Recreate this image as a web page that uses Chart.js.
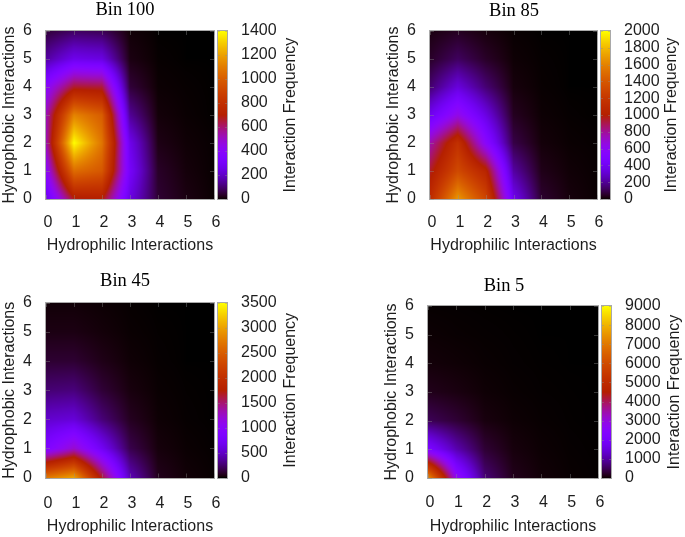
<!DOCTYPE html>
<html>
<head>
<meta charset="utf-8">
<script src="https://cdn.jsdelivr.net/npm/chart.js@4"></script>
<style>
html,body{margin:0;padding:0;background:#fff;}
canvas{position:absolute;display:block;filter:blur(0.4px);}
</style>
</head>
<body>
<script>
// axis categories (grid nodes)
const xCategories = [0,1,2,3,4,5,6];
const yCategories = [0,1,2,3,4,5,6];
const xLabel = 'Hydrophilic Interactions';
const yLabel = 'Hydrophobic Interactions';
const barLabel = 'Interaction Frequency';

// rows go from y=0 up to y=6, columns x=0..6
const bin100Values = [
  [ 250, 680, 700, 240, 45, 15, 2],
  [ 400,1050, 980, 300, 35,  9, 1],
  [ 520,1400,1080, 260, 18,  5, 1],
  [ 520,1120,1000, 140,  8,  2, 0],
  [ 400, 660, 650,  50,  3,  1, 0],
  [ 150, 260, 240,  15,  1,  0, 0],
  [  50,  85,  75,   6,  0,  0, 0]
];
const bin85Values = [
  [1100,1680,1300, 380, 60, 15, 3],
  [ 950,1320,1050, 220, 30,  8, 2],
  [ 760,1150, 570,  90, 12,  3, 1],
  [ 380, 640, 350,  40,  5,  1, 0],
  [ 140, 330, 150,  15,  2,  0, 0],
  [  50, 120,  50,   6,  1,  0, 0],
  [  20,  40,  15,   2,  0,  0, 0]
];
const bin45Values = [
  [2700,3000,1650, 450, 60, 15, 3],
  [ 860,1230, 700, 170, 25,  6, 1],
  [ 520, 560, 270,  70, 10,  2, 0],
  [ 260, 280, 120,  30,  5,  1, 0],
  [ 110, 110,  50,  12,  2,  0, 0],
  [  40,  40,  20,   5,  1,  0, 0],
  [  15,  15,   8,   2,  0,  0, 0]
];
const bin5Values = [
  [7400,2800, 700, 150, 40, 10, 2],
  [2200,1100, 300,  70, 20,  5, 1],
  [ 500, 300,  80,  25,  8,  2, 0],
  [ 150,  90,  30,  10,  3,  1, 0],
  [  50,  30,  12,   4,  1,  0, 0],
  [  20,  10,   5,   2,  0,  0, 0],
  [   5,   3,   1,   0,  0,  0, 0]
];

const panels = [
  {title:'Bin 100', values:bin100Values, cbMax:1400, cbStep:200, left:46,  top:30.5, w:168, h:168,   tx:125, ty:9.5, cbx:77, xPad:14, xl:47},
  {title:'Bin 85',  values:bin85Values,  cbMax:2000, cbStep:200, left:430, top:30.5, w:167, h:168,   tx:130, ty:10,  cbx:75, xPad:14, xl:47},
  {title:'Bin 45',  values:bin45Values,  cbMax:3500, cbStep:500, left:46,  top:302.5,w:168, h:174.5, tx:125, ty:7.7, cbx:77, xPad:16, xl:49},
  {title:'Bin 5',   values:bin5Values,   cbMax:9000, cbStep:1000,left:428, top:306,  w:170, h:172,   tx:122, ty:9.7, cbx:77, xPad:15, xl:48.5}
];

const TEXT = '#1d1d1d', EDGE = '#8c8c8c';
const SANS = '"Liberation Sans", Arial, sans-serif';
const SERIF = '"Liberation Serif", "Times New Roman", serif';

function paletteColor(t){
  t = Math.max(0, Math.min(1, t));
  const r = Math.sqrt(t), g = t*t*t, b = Math.max(0, Math.sin(2*Math.PI*t));
  return 'rgb(' + Math.round(r*255) + ',' + Math.round(g*255) + ',' + Math.round(b*255) + ')';
}
function surfaceValue(m, x, y){
  const i = Math.min(5, Math.max(0, Math.floor(x))), j = Math.min(5, Math.max(0, Math.floor(y)));
  const fx = x - i, fy = y - j;
  return (m[j][i]*(1-fx) + m[j][i+1]*fx)*(1-fy) + (m[j+1][i]*(1-fx) + m[j+1][i+1]*fx)*fy;
}
function noPadding(s){ s.paddingTop = s.paddingBottom = s.paddingLeft = s.paddingRight = 0; }

const heatPlugin = {
  id:'heat',
  beforeDatasetsDraw(chart){
    const p = chart.options.plugins.heat.panel;
    const {ctx, chartArea:a, scales:{x:sx, y:sy, cb}} = chart;
    for(let py = Math.floor(a.top); py < a.bottom; py++){
      for(let px = Math.floor(a.left); px < a.right; px++){
        const v = surfaceValue(p.values, sx.getValueForPixel(px+0.5), sy.getValueForPixel(py+0.5));
        ctx.fillStyle = paletteColor(v/p.cbMax);
        ctx.fillRect(px, py, 1, 1);
      }
    }
    const bx = a.right + 4, bw = 9;
    for(let py = Math.floor(a.top); py < a.bottom; py++){
      ctx.fillStyle = paletteColor(cb.getValueForPixel(py+0.5)/p.cbMax);
      ctx.fillRect(bx, py, bw, 1);
    }
  },
  afterDatasetsDraw(chart){
    const p = chart.options.plugins.heat.panel;
    const {ctx, chartArea:a, scales:{x:sx, y:sy, cb}} = chart;
    const bx = a.right + 4, bw = 9;
    ctx.save();
    ctx.strokeStyle = EDGE; ctx.lineWidth = 1;
    ctx.globalAlpha = 0.75;
    ctx.strokeRect(Math.round(a.left)-0.5, Math.round(a.top)-0.5, Math.round(a.width)+1, Math.round(a.height)+1);
    ctx.strokeRect(bx-0.5, Math.round(a.top)-0.5, bw+1, Math.round(a.height)+1);
    ctx.globalAlpha = 0.4;
    ctx.beginPath();
    sx.ticks.forEach(t=>{ const q = Math.round(sx.getPixelForValue(t.value))+0.5;
      ctx.moveTo(q,a.bottom); ctx.lineTo(q,a.bottom-4); ctx.moveTo(q,a.top); ctx.lineTo(q,a.top+4); });
    sy.ticks.forEach(t=>{ const q = Math.round(sy.getPixelForValue(t.value))+0.5;
      ctx.moveTo(a.left,q); ctx.lineTo(a.left+4,q); ctx.moveTo(a.right,q); ctx.lineTo(a.right-4,q); });
    cb.ticks.forEach(t=>{ const q = Math.round(cb.getPixelForValue(t.value))+0.5;
      ctx.moveTo(bx,q); ctx.lineTo(bx+2,q); ctx.moveTo(bx+bw,q); ctx.lineTo(bx+bw-2,q); });
    ctx.stroke();
    ctx.globalAlpha = 1;
    ctx.fillStyle = '#000';
    ctx.textAlign = 'center'; ctx.textBaseline = 'middle';
    ctx.font = '18.5px ' + SERIF;
    ctx.fillText(p.title, p.tx, p.ty);
    ctx.fillStyle = TEXT;
    ctx.font = '16px ' + SANS;
    ctx.translate(a.right + p.cbx, (a.top+a.bottom)/2);
    ctx.rotate(-Math.PI/2);
    ctx.fillText(barLabel, 0, 0);
    ctx.restore();
  }
};

panels.forEach(p=>{
  const axisLeft = 46, rightW = 86, bottomH = p.xl + 9.6, topGap = 30;
  const c = document.createElement('canvas');
  const W = axisLeft + p.w + rightW, H = Math.ceil(topGap + p.h + bottomH + 2);
  c.width = W; c.height = H;
  c.style.left = (p.left - axisLeft) + 'px';
  c.style.top = Math.round(p.top - topGap) + 'px';
  c.style.width = W + 'px'; c.style.height = H + 'px';
  document.body.appendChild(c);
  const font = {family:SANS, size:16};
  const plain = v => String(v);
  const points = [];
  yCategories.forEach((y,j)=>xCategories.forEach((x,i)=>points.push({x:x, y:y, v:p.values[j][i]})));
  new Chart(c, {
    type:'scatter',
    data:{datasets:[{label:p.title, data:points, pointRadius:0, pointHitRadius:0, xAxisID:'x', yAxisID:'y'}]},
    plugins:[heatPlugin],
    options:{
      responsive:false, animation:false, devicePixelRatio:1,
      layout:{autoPadding:false, padding:{top:topGap, left:0, right:0, bottom:H-topGap-p.h-bottomH}},
      plugins:{legend:{display:false}, title:{display:false}, tooltip:{enabled:false}, heat:{panel:p}},
      scales:{
        x:{type:'linear', min:0, max:6, position:'bottom',
           grid:{display:false, drawTicks:false}, border:{display:false},
           ticks:{stepSize:1, autoSkip:false, maxRotation:0, color:TEXT, font:font, padding:p.xPad, labelOffset:2, callback:plain},
           title:{display:true, text:xLabel, color:TEXT, font:font, padding:0},
           afterFit(s){ s.height = bottomH; noPadding(s); }},
        y:{type:'linear', min:0, max:6, position:'left',
           grid:{display:false, drawTicks:false}, border:{display:false},
           ticks:{stepSize:1, autoSkip:false, color:TEXT, font:font, padding:14, callback:plain},
           title:{display:true, text:yLabel, color:TEXT, font:font, padding:0},
           afterFit(s){ s.width = axisLeft; noPadding(s); }},
        cb:{type:'linear', axis:'y', min:0, max:p.cbMax, position:'right',
           grid:{display:false, drawTicks:false}, border:{display:false},
           ticks:{stepSize:p.cbStep, autoSkip:false, color:TEXT, font:font, padding:27, callback:plain},
           afterFit(s){ s.width = rightW; noPadding(s); }}
      }
    }
  });
});
</script>
</body>
</html>
